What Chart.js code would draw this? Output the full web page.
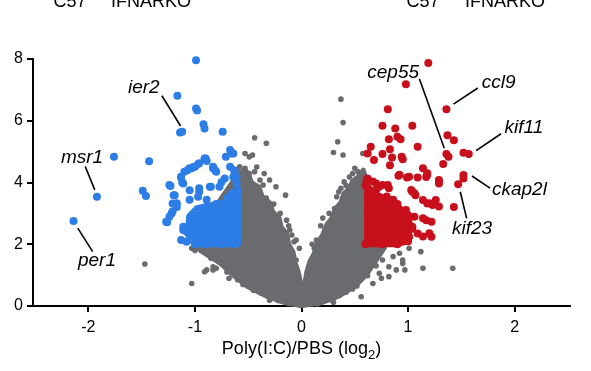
<!DOCTYPE html>
<html>
<head>
<meta charset="utf-8">
<script src="https://cdn.jsdelivr.net/npm/chart.js@4.4.1/dist/chart.umd.min.js"></script>
<style>
  html, body { margin: 0; padding: 0; background: #fff; }
  #wrap { width: 591px; height: 371px; position: relative; }
</style>
</head>
<body>
<div id="wrap"><canvas id="volcano"></canvas></div>
<script>
// axes
const xTicks = [-2, -1, 0, 1, 2];
const yTicks = [0, 2, 4, 6, 8];
const xTitle = 'Poly(I:C)/PBS (log';
const xTitleSub = '2';
const headerLeft = ['C57', 'IFNARKO'];
const headerRight = ['C57', 'IFNARKO'];

// down in poly(I:C) (blue), [log2 fold change, -log10 p]
const bluePoints = [
  [-0.99, 7.96], [-1.165, 6.81], [-0.99, 6.40], [-0.98, 6.33], [-1.14, 5.62], [-1.12, 5.64],
  [-0.92, 5.89], [-0.91, 5.75], [-0.74, 5.64], [-1.76, 4.83], [-1.43, 4.69], [-1.92, 3.54],
  [-1.49, 3.73], [-1.46, 3.56], [-2.14, 2.75], [-1.26, 2.71], [-1.23, 3.89], [-1.2, 3.59],
  [-1.13, 4.16], [-1.12, 4.0], [-1.07, 4.40], [-1.03, 4.46], [-1.01, 4.51], [-0.97, 4.6],
  [-0.9, 4.78], [-0.89, 4.70], [-0.83, 4.51], [-0.81, 4.40], [-0.71, 4.83], [-0.67, 5.05],
  [-0.64, 4.94], [-0.67, 4.51], [-0.64, 4.18], [-0.63, 4.35], [-0.61, 3.97], [-1.21, 3.32],
  [-1.17, 3.21], [-1.22, 3.0], [-1.24, 2.89], [-1.13, 2.14], [-1.08, 2.08], [-1.11, 2.57],
  [-1.08, 2.41], [-1.05, 3.75], [-0.96, 3.81], [-0.86, 3.86], [-0.75, 4.02], [-0.77, 3.86],
  [-1.24, 3.92], [-1.19, 3.59], [-1.17, 3.33], [-1.21, 3.06], [-1.27, 2.73], [-1.11, 2.46],
  [-1.13, 4.19], [-1.1, 4.35], [-1.05, 4.46], [-1.0, 4.51], [-0.96, 4.62], [-0.91, 4.78],
  [-1.11, 3.97], [-0.96, 3.7], [-0.97, 3.54], [-0.85, 3.86], [-0.83, 4.46], [-0.8, 4.35],
  [-0.72, 4.13], [-0.66, 4.94], [-0.63, 4.4], [-0.61, 4.19], [-0.6, 3.76], [-0.89, 3.44],
  [-1.05, 3.44], [-1.04, 2.2], [-1.02, 2.75], [-0.98, 3.1], [-0.9, 3.2], [-0.8, 3.3],
  [-0.7, 3.5], [-0.65, 3.65], [-0.62, 2.0], [-0.75, 2.0], [-0.9, 2.0], [-1.0, 2.0]
];
// dense blue block outline
const blueCore = [
  [-0.6, 2.02], [-1.0, 2.02], [-1.06, 2.3], [-1.05, 2.9], [-0.98, 3.15], [-0.85, 3.25],
  [-0.72, 3.35], [-0.63, 3.7], [-0.6, 3.75]
];

// up in poly(I:C) (red)
const redPoints = [
  [1.19, 7.87], [0.98, 7.18], [1.36, 6.37], [0.81, 6.37], [0.76, 5.84], [0.88, 5.75],
  [1.04, 5.84], [1.37, 5.53], [1.43, 5.37], [0.82, 5.40], [0.9, 5.48], [0.93, 5.40],
  [0.65, 5.16], [0.62, 4.94], [0.76, 4.92], [0.83, 5.08], [0.85, 4.81], [0.94, 4.83],
  [0.95, 4.75], [1.09, 5.16], [1.36, 4.92], [1.38, 4.83], [1.52, 4.96], [1.57, 4.92],
  [1.33, 4.6], [0.83, 4.56], [1.14, 4.46], [1.18, 4.24], [1.17, 4.18], [0.91, 4.22],
  [0.99, 4.16], [1.09, 4.16], [1.29, 4.08], [1.29, 3.97], [1.52, 4.24], [1.52, 4.13],
  [1.47, 3.94], [1.43, 3.21], [0.62, 4.13], [0.7, 3.97], [0.73, 3.86], [0.81, 3.92],
  [0.82, 3.81], [1.04, 3.7], [1.07, 3.59], [1.14, 3.43], [1.18, 3.32], [1.26, 3.43],
  [1.23, 3.27], [1.17, 2.78], [1.22, 2.24], [1.01, 2.24], [1.09, 2.35], [0.92, 3.0],
  [0.98, 3.11], [1.06, 2.89], [1.29, 4.03], [1.18, 4.3], [1.01, 4.19], [0.92, 4.25],
  [0.68, 4.73], [0.61, 4.08], [0.67, 4.03], [0.76, 3.92], [1.03, 3.76], [1.06, 3.65],
  [1.2, 3.33], [1.29, 3.22], [1.14, 2.84], [1.22, 2.73], [1.2, 2.36], [1.14, 2.25],
  [1.04, 2.57], [0.95, 3.0], [0.98, 2.79], [0.86, 3.44], [0.9, 3.27], [0.6, 2.0],
  [0.75, 2.0], [0.9, 2.0], [1.0, 2.1], [1.04, 2.5], [1.0, 2.95], [0.9, 3.3],
  [0.8, 3.55], [0.7, 3.75], [0.6, 3.9]
];
const redCore = [
  [0.62, 2.02], [0.62, 3.85], [0.7, 3.6], [0.8, 3.45], [0.9, 3.2], [0.98, 3.0],
  [1.02, 2.6], [0.98, 2.1], [0.9, 2.02]
];

// not significant (grey)
const greyPoints = [
  [-1.47, 1.36], [-1.03, 0.73], [-0.96, 1.87], [-0.91, 1.81], [-0.89, 1.17], [-0.83, 1.17],
  [-0.8, 1.22], [-0.91, 1.11], [-0.83, 1.27], [-0.3, 0.19], [-1.03, 1.87], [-1.0, 1.8],
  [-0.44, 5.45], [-0.33, 5.27], [-0.53, 4.94], [-0.49, 4.83], [-0.46, 4.89], [-0.58, 4.51],
  [-0.52, 4.35], [-0.35, 4.29], [-0.24, 3.86], [-0.15, 3.59], [-0.53, 4.46], [-0.49, 4.29],
  [-0.44, 4.35], [-0.39, 4.08], [-0.3, 4.08], [-0.36, 3.92], [-0.14, 2.78], [-0.11, 2.46],
  [-0.05, 2.14], [-0.02, 1.87], [-0.05, 1.49], [-0.46, 3.0], [-0.39, 2.57], [-0.3, 2.35],
  [-0.18, 2.46], [-0.16, 2.24], [-0.07, 2.08], [-0.85, 1.55], [-0.7, 1.1], [-0.6, 0.85],
  [-0.45, 0.5], [-0.38, 0.42], [-0.22, 0.18], [-0.12, 0.08], [-0.68, 0.9], [-0.55, 0.7],
  [-0.26, 3.3], [-0.2, 3.0], [-0.12, 2.6], [-0.09, 2.3], [-0.33, 3.5], [-0.42, 4.5],
  [0.37, 6.7], [0.39, 5.94], [0.34, 5.32], [0.3, 4.97], [0.39, 4.89], [0.5, 4.46],
  [0.53, 4.35], [0.48, 4.29], [0.45, 4.18], [0.4, 4.02], [0.37, 3.81], [0.33, 3.54],
  [0.31, 3.16], [0.29, 2.94], [0.5, 3.11], [0.48, 3.43], [0.22, 2.46], [0.14, 2.14],
  [0.12, 1.87], [0.61, 1.17], [0.68, 1.33], [0.76, 1.49], [0.67, 0.73], [0.75, 0.9],
  [0.82, 0.95], [0.89, 1.17], [0.56, 0.3], [1.01, 1.87], [1.12, 1.76], [1.14, 1.22],
  [1.42, 1.22], [0.95, 1.38], [0.97, 1.17], [0.92, 1.71], [0.86, 1.6], [0.82, 1.27],
  [0.73, 1.06], [0.89, 2.03], [0.95, 1.49], [0.575, 4.94], [0.55, 4.25], [0.52, 4.0],
  [0.45, 3.8], [0.55, 3.7], [0.15, 0.07], [0.28, 0.2], [0.42, 0.45], [0.52, 0.65],
  [0.62, 0.98], [0.7, 1.3], [0.48, 0.55], [0.3, 0.12], [0.1, 2.0], [0.18, 2.6],
  [0.26, 3.0], [0.35, 3.7], [0.42, 3.9], [0.2, 2.85]
];
// dense grey V outline
const greyCore = [
  [-0.57, 4.4], [-0.5, 4.3], [-0.47, 4.0], [-0.4, 3.85], [-0.37, 3.55], [-0.3, 3.35],
  [-0.27, 3.05], [-0.21, 2.85], [-0.19, 2.55], [-0.14, 2.35], [-0.12, 2.0], [-0.08, 1.75],
  [-0.06, 1.4], [-0.03, 1.1], [-0.01, 0.75], [0.03, 0.7], [0.05, 1.1], [0.08, 1.45],
  [0.12, 1.7], [0.15, 2.05], [0.2, 2.3], [0.24, 2.65], [0.29, 2.85], [0.32, 3.15],
  [0.37, 3.35], [0.4, 3.65], [0.45, 3.8], [0.48, 4.05], [0.54, 4.2], [0.58, 4.4],
  [0.7, 3.0], [0.78, 1.9], [0.68, 1.38], [0.6, 0.98], [0.5, 0.64], [0.35, 0.32],
  [0.18, 0.1], [0.02, 0.02], [-0.02, 0.02], [-0.15, 0.1], [-0.33, 0.32], [-0.51, 0.64],
  [-0.63, 0.97], [-0.76, 1.38], [-0.95, 1.8], [-0.85, 3.0]
];

// gene callouts: text anchor and leader line, in data units
const geneNotes = [
  { gene: 'ier2', at: [-1.48, 6.9], from: [-1.31, 6.81], to: [-1.135, 5.83] },
  { gene: 'msr1', at: [-2.06, 4.64], from: [-2.03, 4.52], to: [-1.94, 3.76] },
  { gene: 'per1', at: [-1.92, 1.3], from: [-2.1, 2.52], to: [-1.96, 1.76] },
  { gene: 'cep55', at: [0.86, 7.39], from: [1.107, 7.35], to: [1.34, 5.11] },
  { gene: 'ccl9', at: [1.85, 7.07], from: [1.655, 7.06], to: [1.426, 6.54] },
  { gene: 'kif11', at: [2.087, 5.61], from: [1.873, 5.58], to: [1.639, 5.03] },
  { gene: 'ckap2l', at: [2.045, 3.6], from: [1.6, 4.21], to: [1.77, 3.82] },
  { gene: 'kif23', at: [1.6, 2.33], from: [1.49, 3.7], to: [1.55, 2.84] }
];

const BLUE = '#2d7de6';
const RED = '#c80f1c';
const GREY = '#6a6b6e';
const FONT = '"Liberation Sans", Arial, Helvetica, sans-serif';

const toXY = arr => arr.map(p => ({ x: p[0], y: p[1] }));
const closed = arr => toXY(arr.concat([arr[0]]));

function dots(data, color, r) {
  return { data: toXY(data), backgroundColor: color, borderWidth: 0, pointRadius: r, pointHoverRadius: r, clip: false };
}
function blob(data, color, w) {
  return {
    data: closed(data), showLine: true, fill: 'shape', backgroundColor: color,
    borderColor: color, borderWidth: w, borderJoinStyle: 'round', pointRadius: 0,
    pointHoverRadius: 0, tension: 0, clip: false
  };
}

const calloutPlugin = {
  id: 'callouts',
  afterDatasetsDraw(chart) {
    const { ctx, scales: { x, y } } = chart;
    ctx.save();
    ctx.strokeStyle = '#000';
    ctx.lineWidth = 1.6;
    ctx.fillStyle = '#000';
    ctx.font = 'italic 19px ' + FONT;
    ctx.textAlign = 'center';
    ctx.textBaseline = 'alphabetic';
    geneNotes.forEach(n => {
      ctx.beginPath();
      ctx.moveTo(x.getPixelForValue(n.from[0]), y.getPixelForValue(n.from[1]));
      ctx.lineTo(x.getPixelForValue(n.to[0]), y.getPixelForValue(n.to[1]));
      ctx.stroke();
      ctx.fillText(n.gene, x.getPixelForValue(n.at[0]), y.getPixelForValue(n.at[1]));
    });
    ctx.restore();
  }
};

const titlePlugin = {
  id: 'xtitle',
  afterDraw(chart) {
    const { ctx, chartArea } = chart;
    ctx.save();
    ctx.fillStyle = '#000';
    ctx.textBaseline = 'alphabetic';
    ctx.textAlign = 'left';
    const big = '18px ' + FONT, small = '13px ' + FONT;
    ctx.font = big;
    const w1 = ctx.measureText(xTitle).width, w3 = ctx.measureText(')').width;
    ctx.font = small;
    const w2 = ctx.measureText(xTitleSub).width;
    let cx = (chartArea.left + chartArea.right) / 2 - (w1 + w2 + w3) / 2;
    const base = 354;
    ctx.font = big;
    ctx.fillText(xTitle, cx, base);
    ctx.font = small;
    ctx.fillText(xTitleSub, cx + w1, base + 5);
    ctx.font = big;
    ctx.fillText(')', cx + w1 + w2, base);

    // header labels, cropped at the top of the figure
    ctx.font = '18px ' + FONT;
    ctx.textAlign = 'center';
    ctx.fillText(headerLeft[0], 70, 7);
    ctx.fillText(headerLeft[1], 151, 7);
    ctx.fillText(headerRight[0], 423, 7);
    ctx.fillText(headerRight[1], 505, 7);
    ctx.restore();
  }
};

const axisGrid = { display: true, drawOnChartArea: false, drawTicks: true, tickLength: 6, color: '#000', lineWidth: 2 };

new Chart(document.getElementById('volcano'), {
  type: 'scatter',
  data: {
    datasets: [
      dots(redPoints, RED, 4),
      dots(bluePoints, BLUE, 4),
      blob(redCore, RED, 7),
      blob(blueCore, BLUE, 7),
      dots(greyPoints, GREY, 2.8),
      blob(greyCore, GREY, 5)
    ]
  },
  options: {
    responsive: true,
    maintainAspectRatio: false,
    animation: false,
    layout: { padding: { top: 59, right: 21, left: 0, bottom: 0 } },
    plugins: { legend: { display: false }, tooltip: { enabled: false } },
    scales: {
      x: {
        type: 'linear',
        min: -2.52,
        max: 2.52,
        afterBuildTicks: s => { s.ticks = xTicks.map(v => ({ value: v })); },
        afterFit: s => { s.height = 65; },
        grid: axisGrid,
        border: { display: true, color: '#000', width: 2 },
        ticks: { color: '#000', padding: 6, font: { family: FONT, size: 16 } }
      },
      y: {
        type: 'linear',
        min: 0,
        max: 8,
        afterBuildTicks: s => { s.ticks = yTicks.map(v => ({ value: v })); },
        afterFit: s => { s.width = 33; },
        grid: axisGrid,
        border: { display: true, color: '#000', width: 2 },
        ticks: { color: '#000', padding: 4, font: { family: FONT, size: 16 } }
      }
    }
  },
  plugins: [calloutPlugin, titlePlugin]
});
</script>
</body>
</html>
